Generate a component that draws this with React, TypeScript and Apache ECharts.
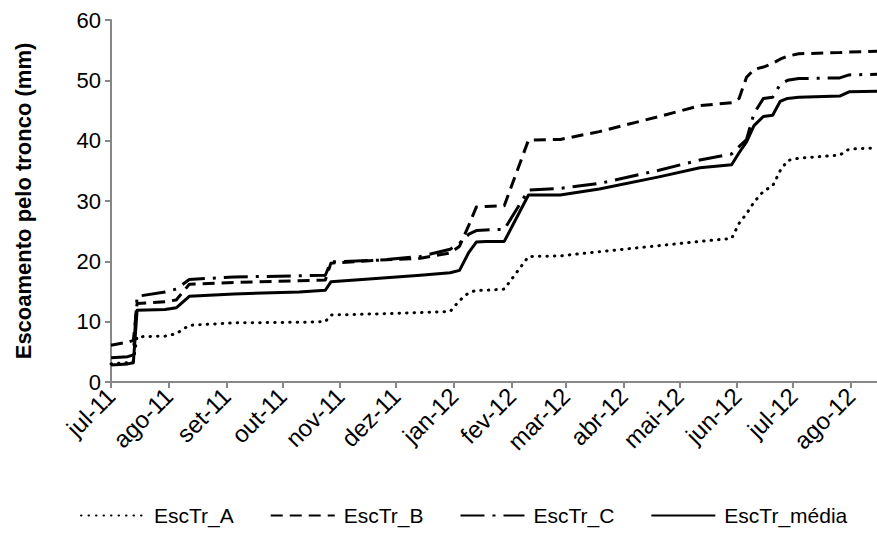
import React, { useEffect, useRef } from "react";
import * as echarts from "echarts";

const dates = [
  "2011-07-01", "2011-07-10", "2011-07-13", "2011-07-15", "2011-07-30", "2011-08-05",
  "2011-08-12", "2011-09-05", "2011-10-10", "2011-10-24", "2011-10-27", "2011-11-22",
  "2011-12-14", "2011-12-30", "2012-01-04", "2012-01-09", "2012-01-13", "2012-01-18",
  "2012-01-28", "2012-02-10", "2012-02-27", "2012-03-19", "2012-04-20", "2012-05-12",
  "2012-05-29", "2012-06-02", "2012-06-06", "2012-06-10", "2012-06-15", "2012-06-20",
  "2012-06-24", "2012-06-28", "2012-07-04", "2012-07-26", "2012-07-31", "2012-08-15",
];

const escTrA = [
  3.0, 3.2, 3.5, 7.5, 7.6, 8.0, 9.4, 9.8, 9.9, 10.0, 11.1, 11.3,
  11.5, 11.7, 13.5, 14.8, 15.2, 15.2, 15.4, 20.8, 20.9, 21.6, 22.6, 23.3,
  23.8, 26.3, 27.9, 29.8, 31.6, 32.5, 35.0, 36.7, 37.1, 37.6, 38.6, 38.8,
];

const escTrB = [
  6.1, 6.6, 6.9, 13.0, 13.3, 13.6, 16.2, 16.5, 16.8, 16.9, 19.7, 20.2,
  20.5, 21.4, 22.5, 26.0, 29.0, 29.1, 29.2, 40.1, 40.2, 41.5, 44.0, 45.8,
  46.3, 47.0, 50.5, 51.8, 52.2, 52.8, 53.5, 54.0, 54.4, 54.6, 54.7, 54.8,
];

const escTrC = [
  4.0, 4.2, 4.5, 14.2, 14.9, 15.4, 17.0, 17.4, 17.6, 17.7, 19.9, 20.2,
  20.8, 22.0, 23.0, 24.5, 25.1, 25.2, 25.3, 31.8, 32.1, 32.9, 35.1, 36.8,
  37.8, 39.0, 40.2, 44.5, 47.0, 47.2, 49.3, 50.0, 50.3, 50.4, 50.9, 51.0,
];

const escTrMedia = [
  2.8, 3.0, 3.2, 11.9, 12.0, 12.3, 14.2, 14.6, 14.9, 15.2, 16.6, 17.2,
  17.7, 18.1, 18.5, 21.5, 23.2, 23.3, 23.3, 31.0, 31.0, 32.0, 34.0, 35.5,
  36.0, 38.0, 39.8, 42.5, 44.0, 44.2, 46.5, 47.0, 47.2, 47.4, 48.1, 48.2,
];

const seriesNames = ["EscTr_A", "EscTr_B", "EscTr_C", "EscTr_média"];
const monthNames = ["jan", "fev", "mar", "abr", "mai", "jun", "jul", "ago", "set", "out", "nov", "dez"];
const xStart = "2011-07-01";
const xEnd = "2012-08-15";
const yMin = 0;
const yMax = 60;
const yStep = 10;

function toTime(s: string): number {
  const [y, m, d] = s.split("-").map(Number);
  return new Date(y, m - 1, d).getTime();
}

const FONT = "'Liberation Sans', Arial, sans-serif";
const DAY = 24 * 3600 * 1000;

export default function App() {
  const ref = useRef<HTMLDivElement>(null);

  useEffect(() => {
    document.body.style.margin = "0";
    if (!ref.current) return;
    const chart = echarts.init(ref.current, undefined, { renderer: "svg" });
    const values = [escTrA, escTrB, escTrC, escTrMedia];
    const dashes: any[] = [[0.5, 7], [12, 7], [24, 8, 3, 8], "solid"];
    const caps = ["round", "butt", "butt", "butt"];
    const series = seriesNames.map((name, i) => ({
      name,
      type: "line",
      data: dates.map((d, j) => [toTime(d), values[i][j]]),
      symbol: "none",
      showSymbol: false,
      smooth: false,
      lineStyle: { color: "#000", width: 3, type: dashes[i], cap: caps[i], join: "round" },
      itemStyle: { color: "#000" },
    }));

    chart.setOption({
      animation: false,
      backgroundColor: "#fff",
      grid: { left: 111, right: 0, top: 20, bottom: 167, containLabel: false },
      xAxis: {
        type: "time",
        min: toTime(xStart),
        max: toTime(xEnd),
        minInterval: 28 * DAY,
        maxInterval: 31 * DAY,
        axisLine: { show: true, lineStyle: { color: "#878787", width: 2 } },
        axisTick: { show: true, length: 6, lineStyle: { color: "#878787", width: 2 } },
        splitLine: { show: false },
        axisLabel: {
          rotate: 45,
          margin: 10,
          color: "#000",
          fontSize: 24,
          fontFamily: FONT,
          showMaxLabel: false,
          formatter: (v: number) => {
            const d = new Date(v);
            return monthNames[d.getMonth()] + "-" + String(d.getFullYear()).slice(2);
          },
        },
      },
      yAxis: {
        type: "value",
        min: yMin,
        max: yMax,
        interval: yStep,
        name: "Escoamento pelo tronco (mm)",
        nameLocation: "middle",
        nameGap: 77,
        nameTextStyle: { fontSize: 22, fontWeight: "bold", color: "#000", fontFamily: FONT },
        axisLine: { show: true, lineStyle: { color: "#878787", width: 2 } },
        axisTick: { show: true, length: 6, lineStyle: { color: "#878787", width: 2 } },
        splitLine: { show: false },
        axisLabel: { color: "#000", fontSize: 22, fontFamily: FONT, margin: 10 },
      },
      legend: {
        bottom: 18,
        left: 75,
        itemWidth: 64,
        itemHeight: 12,
        itemGap: 36,
        itemStyle: { opacity: 0 },
        textStyle: { fontSize: 21, color: "#000", fontFamily: FONT, padding: [0, 0, 0, 4] },
        data: seriesNames,
      },
      series,
    });

    return () => chart.dispose();
  }, []);

  return <div ref={ref} style={{ width: 877, height: 549 }} />;
}
